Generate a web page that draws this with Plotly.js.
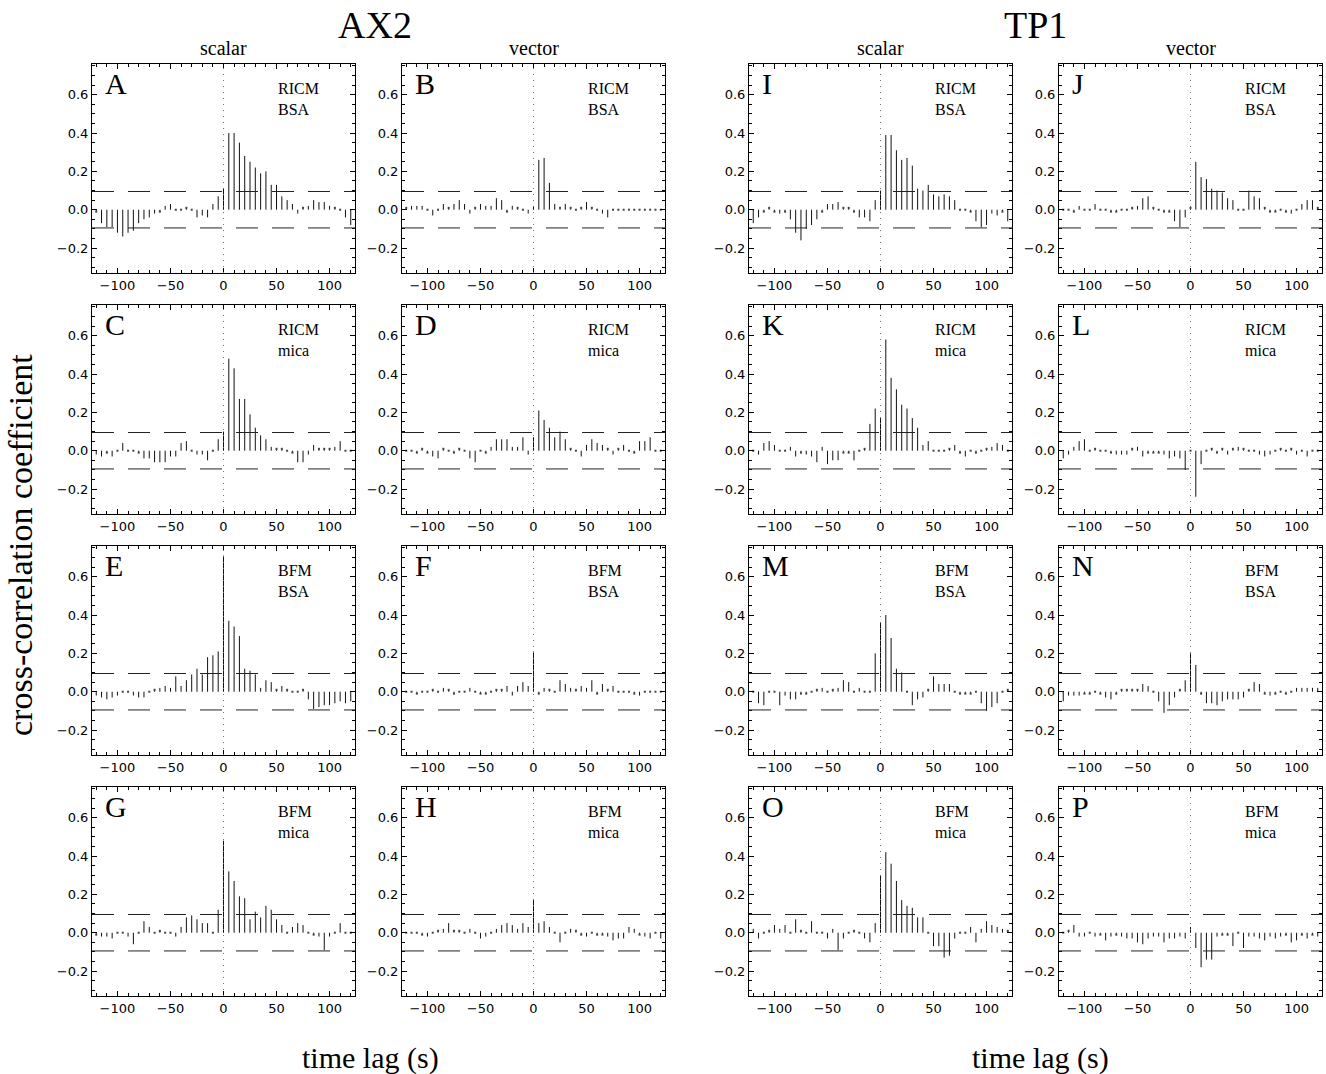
<!DOCTYPE html>
<html><head><meta charset="utf-8">
<script src="https://cdn.plot.ly/plotly-3.0.1.min.js"></script>
<style>html,body{margin:0;padding:0;background:#fff}</style>
</head><body><div id="chart" style="width:1326px;height:1074px"></div>
<script>
// time lags (s)
const lags = [-120,-115,-110,-105,-100,-95,-90,-85,-80,-75,-70,-65,-60,-55,-50,-45,-40,-35,-30,-25,-20,-15,-10,-5,0,5,10,15,20,25,30,35,40,45,50,55,60,65,70,75,80,85,90,95,100,105,110,115,120];

// AX2 scalar / vector
const valsA = [-0.01,-0.07,-0.09,-0.09,-0.12,-0.14,-0.12,-0.11,-0.07,-0.05,-0.04,-0.02,-0.01,0.02,0.03,0.00,0.00,0.01,0.00,-0.04,-0.03,-0.04,0.03,0.07,0.11,0.40,0.40,0.35,0.28,0.25,0.22,0.19,0.20,0.13,0.13,0.07,0.05,0.03,-0.02,0.01,0.02,0.05,0.04,0.04,0.02,0.01,0.00,-0.04,-0.08];
const valsB = [0.01,0.02,0.02,0.02,0.00,-0.03,0.00,0.03,0.01,0.03,0.05,0.03,-0.02,0.01,0.03,0.02,0.02,0.06,0.05,-0.01,0.02,0.01,0.00,-0.02,0.02,0.26,0.27,0.14,0.03,0.01,0.03,0.01,0.00,0.01,0.04,0.01,0.00,-0.02,-0.04,0.00,0.00,0.00,0.00,0.00,0.00,0.00,0.00,0.00,0.00];
const valsC = [-0.02,-0.03,-0.01,-0.03,0.00,0.04,0.00,0.00,-0.01,-0.04,-0.04,-0.06,-0.06,-0.06,-0.03,-0.03,0.04,0.05,0.00,-0.02,-0.02,-0.05,0.00,0.06,0.10,0.48,0.43,0.27,0.27,0.19,0.12,0.08,0.06,0.02,0.01,0.01,0.00,-0.01,-0.06,-0.06,-0.02,0.03,0.01,0.01,0.01,0.02,0.05,0.00,0.00];
const valsD = [0.00,0.00,-0.01,0.01,-0.01,-0.03,-0.04,0.01,0.00,-0.01,0.01,0.00,-0.04,-0.06,0.00,-0.01,0.02,0.06,0.06,0.06,0.02,0.02,0.07,-0.02,0.07,0.21,0.16,0.12,0.07,0.10,0.06,0.01,0.00,-0.03,0.03,0.06,0.04,0.03,0.01,-0.02,0.01,0.03,0.00,-0.01,0.05,0.05,0.07,0.00,0.00];
const valsE = [-0.02,-0.03,-0.04,-0.03,-0.02,0.00,0.00,-0.02,-0.03,-0.03,0.00,0.01,0.02,0.03,0.02,0.08,0.03,0.06,0.09,0.12,0.09,0.18,0.19,0.21,0.71,0.37,0.34,0.29,0.12,0.11,0.09,0.02,0.06,0.05,0.01,0.03,0.01,0.00,0.00,0.01,-0.04,-0.09,-0.08,-0.07,-0.07,-0.06,-0.05,-0.06,-0.05];
const valsF = [0.00,0.00,-0.01,0.00,0.00,0.01,0.00,0.02,0.01,-0.01,0.00,0.00,0.02,0.00,-0.01,-0.01,0.00,0.01,0.01,0.03,-0.02,0.03,0.05,0.03,0.21,-0.01,0.02,0.01,0.00,0.06,0.04,0.02,0.01,0.03,0.02,0.06,-0.01,0.04,0.01,0.03,0.00,0.00,0.00,-0.01,-0.02,0.00,0.00,0.00,0.00];
const valsG = [-0.01,-0.02,-0.02,-0.03,0.00,0.00,-0.02,-0.06,0.00,0.06,0.03,0.00,0.01,0.00,0.00,-0.02,0.03,0.08,0.09,0.07,0.05,0.05,0.00,0.12,0.48,0.32,0.27,0.19,0.18,0.07,0.11,0.08,0.14,0.12,0.07,0.04,0.00,0.03,0.05,0.04,0.00,-0.01,-0.02,-0.09,-0.02,0.00,0.05,0.00,0.00];
const valsH = [0.00,0.00,0.00,-0.01,-0.02,0.00,0.01,0.02,0.05,0.01,0.01,0.00,0.02,0.00,-0.03,-0.02,0.00,0.02,0.04,0.05,0.04,0.02,0.05,0.03,0.17,0.05,0.06,0.03,0.00,-0.05,0.00,0.02,0.01,-0.01,-0.02,0.00,-0.01,-0.01,-0.02,-0.04,-0.03,-0.03,0.03,0.02,-0.01,-0.02,-0.03,0.00,-0.03];

// TP1 scalar / vector
const valsI = [-0.07,-0.04,-0.01,0.01,-0.01,-0.02,-0.01,-0.05,-0.12,-0.16,-0.10,-0.08,-0.05,-0.01,0.03,0.03,0.04,0.01,0.01,-0.01,-0.04,-0.04,-0.06,0.05,0.10,0.39,0.39,0.31,0.26,0.27,0.23,0.11,0.10,0.13,0.08,0.07,0.08,0.07,0.05,0.00,0.00,-0.01,-0.06,-0.09,-0.08,-0.02,-0.03,-0.01,-0.06];
const valsJ = [0.00,0.00,-0.01,0.02,0.00,0.00,0.03,0.00,0.00,-0.01,-0.01,0.00,0.00,0.01,0.02,0.06,0.07,0.01,0.00,-0.01,-0.01,-0.06,-0.09,-0.04,0.01,0.25,0.17,0.16,0.11,0.10,0.09,0.06,0.05,0.00,0.00,0.10,0.07,0.06,0.01,-0.01,-0.01,0.00,-0.01,-0.02,0.00,0.03,0.05,0.05,0.01];
const valsK = [0.00,-0.02,0.04,0.05,0.03,0.00,0.00,0.02,-0.03,-0.01,-0.02,-0.03,-0.06,0.02,-0.07,-0.05,-0.05,-0.01,-0.01,-0.05,0.00,0.01,0.14,0.22,0.17,0.58,0.38,0.32,0.24,0.22,0.17,0.12,0.03,0.05,0.00,0.00,0.00,0.01,0.03,-0.01,-0.03,0.00,-0.01,0.00,0.01,0.02,0.04,0.03,0.00];
const valsL = [-0.04,-0.02,0.02,0.05,0.06,0.00,0.01,0.00,0.00,-0.01,-0.02,-0.02,-0.02,0.01,0.02,-0.03,-0.01,-0.01,-0.01,-0.02,-0.04,-0.03,-0.04,-0.10,0.00,-0.24,-0.07,0.00,0.01,-0.01,0.01,-0.02,0.01,0.02,0.01,0.00,0.00,-0.02,-0.03,-0.02,0.00,0.01,0.00,0.01,-0.02,0.00,-0.03,0.00,0.00];
const valsM = [0.00,-0.06,-0.07,0.00,0.00,-0.07,-0.02,-0.04,-0.04,-0.01,-0.01,0.00,0.01,0.02,0.00,0.01,0.02,0.06,0.05,0.00,0.02,0.00,0.00,0.20,0.36,0.40,0.28,0.12,0.10,0.00,-0.07,-0.04,-0.03,0.01,0.08,0.04,0.04,0.04,0.00,-0.01,-0.01,-0.01,0.00,-0.06,-0.10,-0.08,-0.06,0.00,0.01];
const valsN = [-0.05,-0.02,-0.02,-0.02,-0.01,-0.01,0.00,-0.01,-0.03,-0.04,-0.01,0.01,0.01,0.01,0.01,0.04,0.03,0.00,-0.05,-0.11,-0.07,-0.03,0.01,0.06,0.20,0.14,-0.01,-0.06,-0.06,-0.07,-0.05,-0.04,-0.04,-0.04,-0.03,0.01,0.05,0.04,-0.01,-0.02,-0.01,0.00,-0.01,0.00,0.02,0.02,0.02,0.02,0.02];
const valsO = [0.02,-0.03,0.00,0.01,0.04,0.02,0.04,0.00,0.07,0.01,0.00,0.06,0.00,0.00,-0.03,0.02,-0.09,-0.03,0.00,0.01,0.00,-0.03,-0.05,0.05,0.30,0.42,0.36,0.27,0.17,0.14,0.13,0.08,0.08,0.00,-0.07,-0.07,-0.13,-0.12,-0.03,0.00,0.00,0.03,-0.05,0.02,0.06,0.04,0.03,0.02,0.01];
const valsP = [0.00,0.01,0.04,-0.02,-0.02,0.00,-0.02,-0.01,-0.04,-0.02,-0.01,-0.02,-0.03,-0.03,-0.05,-0.06,-0.03,-0.02,-0.02,-0.05,-0.03,-0.03,-0.02,-0.03,0.03,-0.08,-0.18,-0.14,-0.14,-0.02,-0.01,-0.01,-0.07,0.00,-0.08,-0.02,-0.02,-0.03,-0.04,-0.02,-0.03,-0.02,-0.01,-0.05,-0.04,-0.01,-0.03,-0.01,-0.02];

// labels
const panelLetters = ['A','B','I','J','C','D','K','L','E','F','M','N','G','H','O','P'];
const panelValues  = [valsA,valsB,valsI,valsJ,valsC,valsD,valsK,valsL,valsE,valsF,valsM,valsN,valsG,valsH,valsO,valsP];
const rowMethod    = ['RICM','RICM','BFM','BFM'];
const rowSubstrate = ['BSA','mica','BSA','mica'];
const groupTitles  = ['AX2','TP1'];
const colTitles    = ['scalar','vector','scalar','vector'];
const significance = 0.095;
const yTitle = 'cross-correlation coefficient';
const xTitle = 'time lag (s)';

// layout geometry (pixels)
const W = 1326, H = 1074;
const colL = [92, 402, 749, 1059], colR = [355, 665, 1012, 1322];
const rowT = [64, 305, 546, 787], rowB = [273, 514, 755, 996];

const SERIF = 'Liberation Serif, Times New Roman, serif';
const SANS = 'DejaVu Sans, sans-serif';

const data = [];
const layout = {
  width: W, height: H, margin: {l:0, r:0, t:0, b:0},
  paper_bgcolor: '#fff', plot_bgcolor: '#fff', showlegend: false,
  shapes: [], annotations: []
};

for (let p = 0; p < 16; p++) {
  const r = Math.floor(p / 4), c = p % 4, k = p + 1;
  const xa = k === 1 ? 'x' : 'x' + k, ya = k === 1 ? 'y' : 'y' + k;
  const vals = panelValues[p];
  const xs = [], ys = [], dx = [], dy = [];
  for (let j = 0; j < lags.length; j++) {
    xs.push(lags[j], lags[j], null); ys.push(0, vals[j], null);
    if (Math.abs(vals[j]) < 0.015) { dx.push(lags[j]); dy.push(vals[j]); }
  }
  data.push({type:'scatter', mode:'lines', x: xs, y: ys, xaxis: xa, yaxis: ya,
    line:{color:'#111', width:1}, hoverinfo:'skip', connectgaps:false});
  data.push({type:'scatter', mode:'markers', x: dx, y: dy, xaxis: xa, yaxis: ya,
    marker:{color:'#444', size:2, symbol:'square'}, hoverinfo:'skip'});

  const axCommon = {showline:true, linecolor:'#000', linewidth:1, mirror:'ticks',
    ticks:'inside', ticklen:5, tickcolor:'#000', showgrid:false, zeroline:false,
    tickfont:{family:SANS, size:13, color:'#000'}};
  layout[k === 1 ? 'xaxis' : 'xaxis' + k] = Object.assign({}, axCommon, {
    domain:[colL[c]/W, colR[c]/W], anchor: ya, range:[-124, 124],
    tick0:0, dtick:50, minor:{dtick:10, ticks:'inside', ticklen:3, tickcolor:'#000'}
  });
  layout[k === 1 ? 'yaxis' : 'yaxis' + k] = Object.assign({}, axCommon, {
    domain:[1 - rowB[r]/H, 1 - rowT[r]/H], anchor: xa, range:[-0.33, 0.76],
    tick0:0, dtick:0.2, tickformat:'.1f', minor:{dtick:0.05, ticks:'inside', ticklen:3, tickcolor:'#000'}
  });

  const xd = xa + ' domain', yd = ya + ' domain';
  layout.shapes.push({type:'line', xref:xa, yref:yd, x0:0, x1:0, y0:0, y1:1,
    line:{color:'#777', width:1, dash:'1px,5px'}});
  [significance, -significance].forEach(s => layout.shapes.push({type:'line', xref:xd, yref:ya,
    x0:0, x1:1, y0:s, y1:s, line:{color:'#222', width:1, dash:'22px,14px'}}));

  layout.annotations.push({xref:xd, yref:yd, x:0.04, y:0.905, xanchor:'left', yanchor:'middle',
    text:panelLetters[p], showarrow:false, font:{family:SERIF, size:30, color:'#000'}});
  layout.annotations.push({xref:xd, yref:yd, x:0.70, y:0.885, xanchor:'left', yanchor:'middle',
    text:rowMethod[r], showarrow:false, font:{family:SERIF, size:16, color:'#000'}});
  layout.annotations.push({xref:xd, yref:yd, x:0.70, y:0.78, xanchor:'left', yanchor:'middle',
    text:rowSubstrate[r], showarrow:false, font:{family:SERIF, size:16, color:'#000'}});
}

// group titles, column titles
const groupX = [375, 1035];
groupTitles.forEach((t, i) => layout.annotations.push({xref:'paper', yref:'paper',
  x: groupX[i]/W, y: 1 - 25/H, text:t, showarrow:false, xanchor:'center', yanchor:'middle',
  font:{family:SERIF, size:38, color:'#000'}}));
colTitles.forEach((t, c) => layout.annotations.push({xref:'paper', yref:'paper',
  x: ((colL[c] + colR[c]) / 2)/W, y: 1 - 48/H, text:t, showarrow:false, xanchor:'center', yanchor:'middle',
  font:{family:SERIF, size:20, color:'#000'}}));
layout.annotations.push({xref:'paper', yref:'paper', x: 20/W, y: 1 - 545/H, text:yTitle,
  textangle:-90, showarrow:false, xanchor:'center', yanchor:'middle',
  font:{family:SERIF, size:34, color:'#000'}});
[370, 1040].forEach(px => layout.annotations.push({xref:'paper', yref:'paper', x: px/W, y: 1 - 1058/H,
  text:xTitle, showarrow:false, xanchor:'center', yanchor:'middle',
  font:{family:SERIF, size:30, color:'#000'}}));

Plotly.newPlot('chart', data, layout, {displayModeBar:false, staticPlot:true});
</script></body></html>
